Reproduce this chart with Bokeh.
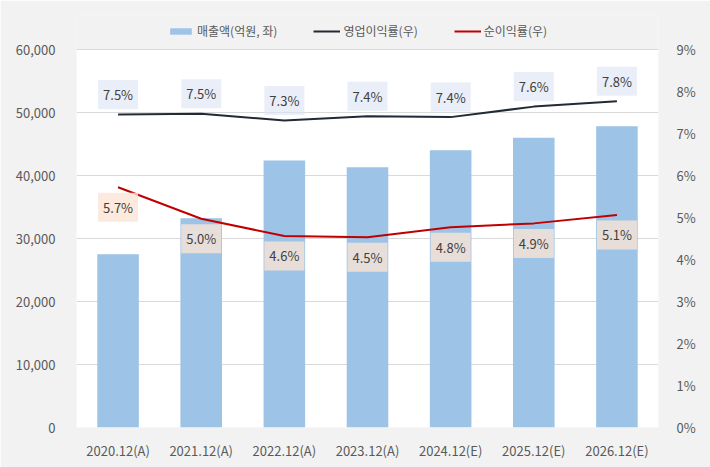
from bokeh.plotting import figure
from bokeh.models import (ColumnDataSource, Range1d, LinearAxis, Legend, BoxAnnotation,
                          LegendItem, FixedTicker, NumeralTickFormatter, PrintfTickFormatter)
from bokeh.core.properties import value
from bokeh.embed import file_html
from bokeh.resources import INLINE

categories = ["2020.12(A)", "2021.12(A)", "2022.12(A)", "2023.12(A)", "2024.12(E)", "2025.12(E)", "2026.12(E)"]
revenue = [27500, 33200, 42400, 41300, 44000, 46000, 47800]
op_margin = [7.45, 7.47, 7.31, 7.41, 7.39, 7.64, 7.77]
net_margin = [5.72, 4.97, 4.56, 4.53, 4.77, 4.86, 5.06]
left_ticks = [0, 10000, 20000, 30000, 40000, 50000, 60000]
right_ticks = [0, 1, 2, 3, 4, 5, 6, 7, 8, 9]
left_max = 60000
right_max = 9

FONT = "Noto Sans CJK KR"

# frame spans 413 px; plot area (0..max) spans 378 px, the rest holds the legend
EXT = 413 / 378

src = ColumnDataSource(dict(
    x=categories, rev=revenue, op=op_margin, net=net_margin,
    op_lbl=[f"{v:.1f}%" for v in op_margin],
    net_lbl=[f"{v:.1f}%" for v in net_margin],
))

p = figure(x_range=categories, y_range=Range1d(0, left_max * EXT), width=710, height=467,
           output_backend="svg", toolbar_location=None,
           min_border_left=76, min_border_right=52, min_border_top=14, min_border_bottom=40)
p.extra_y_ranges = {"pct": Range1d(0, right_max * EXT)}
p.background_fill_color = "#f2f2f2"
p.border_fill_color = "#f2f2f2"
p.outline_line_color = None

plot_area = BoxAnnotation(bottom=0, top=left_max, fill_color="white", fill_alpha=1,
                          line_color=None, level="image")
p.add_layout(plot_area)

bars = p.vbar(x="x", top="rev", width=0.5, source=src, fill_color="#9dc3e6", line_color=None)
l_op = p.line(x="x", y="op", source=src, y_range_name="pct", line_color="#222a35", line_width=2)
l_net = p.line(x="x", y="net", source=src, y_range_name="pct", line_color="#c00000", line_width=2)

p.text(x="x", y="op", text="op_lbl", source=src, y_range_name="pct",
       y_offset=-20, text_align="center", text_baseline="middle",
       text_font_size="13px", text_color="#404040", text_font=value(FONT),
       background_fill_color="#dae3f3", background_fill_alpha=0.6, padding=5)
p.text(x="x", y="net", text="net_lbl", source=src, y_range_name="pct",
       y_offset=20, text_align="center", text_baseline="middle",
       text_font_size="13px", text_color="#404040", text_font=value(FONT),
       background_fill_color="#fbe5d6", background_fill_alpha=0.8, padding=5)

# axes
p.yaxis.ticker = FixedTicker(ticks=left_ticks)
p.yaxis.formatter = NumeralTickFormatter(format="0,0")
p.yaxis.major_label_standoff = 15
ax_r = LinearAxis(y_range_name="pct", ticker=FixedTicker(ticks=right_ticks),
                  formatter=PrintfTickFormatter(format="%d%%"))
ax_r.major_label_standoff = 12
p.add_layout(ax_r, "right")
p.xaxis.major_label_standoff = 7

for ax in p.yaxis + p.xaxis:
    ax.axis_line_color = None
    ax.major_tick_line_color = None
    ax.minor_tick_line_color = None
    ax.major_label_text_color = "#595959"
    ax.major_label_text_font_size = "13px"
    ax.major_label_text_font = FONT

p.xgrid.grid_line_color = None
p.ygrid.grid_line_color = "#d9d9d9"
p.ygrid.ticker = FixedTicker(ticks=left_ticks)

legend = Legend(items=[
    LegendItem(label="매출액(억원, 좌)", renderers=[bars]),
    LegendItem(label="영업이익률(우)", renderers=[l_op]),
    LegendItem(label="순이익률(우)", renderers=[l_net]),
], orientation="horizontal", location=(91, 388))
legend.background_fill_alpha = 0
legend.border_line_color = None
legend.label_text_font = FONT
legend.label_text_font_size = "12px"
legend.label_text_color = "#595959"
legend.glyph_width = 27
legend.glyph_height = 8
legend.label_standoff = 3
legend.spacing = 36
legend.padding = 0
legend.margin = 0
p.add_layout(legend, "center")

open("out.html", "w").write(file_html(p, INLINE))
